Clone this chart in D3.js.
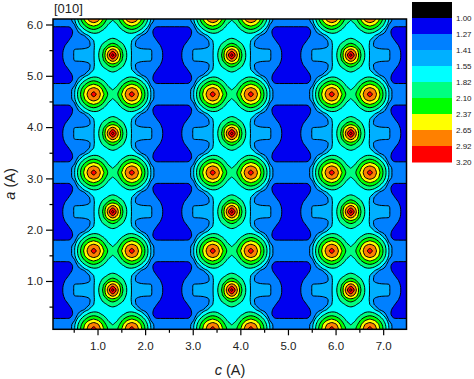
<!DOCTYPE html>
<html>
<head>
<meta charset="utf-8">
<script src="https://cdn.jsdelivr.net/npm/d3@7"></script>
<style>
  html, body { margin: 0; padding: 0; background: #fff; }
  svg { display: block; }
  text { font-family: "Liberation Sans", Arial, sans-serif; fill: #222; }
</style>
</head>
<body>
<div id="chart"></div>
<script>
// contour levels and band colours (first colour is what sits under 1.00)
var levels = [1.00, 1.27, 1.41, 1.55, 1.82, 2.10, 2.37, 2.65, 2.92, 3.20];
var levelLabels = ["1.00", "1.27", "1.41", "1.55", "1.82", "2.10", "2.37", "2.65", "2.92", "3.20"];
var bandColors = ["#000000", "#0000f0", "#0080ff", "#00b0ff", "#00ffff", "#00ff80", "#00ff00", "#ffff00", "#ff8000", "#ff0000"];

var xMajor = [1, 2, 3, 4, 5, 6, 7];
var xMinor = [0.5, 1.5, 2.5, 3.5, 4.5, 5.5, 6.5];
var yMajor = [1, 2, 3, 4, 5, 6];
var yMinor = [0.5, 1.5, 2.5, 3.5, 4.5, 5.5];

// rows go from the atom pair row to the single atom row, columns from the
// single atom axis out to the middle of the dark blue blob
var cellZ = [
  [1.96, 2.08, 2.42, 2.80, 3.05, 2.80, 2.42, 2.00, 1.55, 1.33, 1.32, 1.31, 1.30],
  [1.80, 1.95, 2.28, 2.65, 2.79, 2.65, 2.32, 1.93, 1.52, 1.33, 1.31, 1.30, 1.29],
  [1.72, 1.78, 2.05, 2.28, 2.40, 2.29, 2.05, 1.74, 1.38, 1.30, 1.29, 1.29, 1.29],
  [1.68, 1.68, 1.78, 1.92, 2.00, 1.92, 1.72, 1.46, 1.33, 1.20, 1.19, 1.19, 1.19],
  [1.72, 1.69, 1.68, 1.68, 1.66, 1.56, 1.41, 1.36, 1.31, 1.24, 1.12, 1.10, 1.10],
  [1.90, 1.84, 1.72, 1.62, 1.55, 1.40, 1.36, 1.35, 1.32, 1.285, 1.22, 1.15, 1.12],
  [2.25, 2.12, 1.90, 1.68, 1.53, 1.375, 1.37, 1.365, 1.36, 1.32, 1.27, 1.22, 1.18],
  [2.80, 2.58, 2.08, 1.76, 1.53, 1.48, 1.43, 1.425, 1.42, 1.35, 1.29, 1.24, 1.20],
  [3.35, 2.75, 2.15, 1.80, 1.53, 1.50, 1.47, 1.45, 1.42, 1.37, 1.30, 1.24, 1.20]
];
var cStep = 0.1, aStep = 0.0954;
var cStart = 1.32, aStart = 0.06;   // position of cellZ[0][0]

var margin = {top: 19, right: 67.5, bottom: 49.7, left: 53},
    width = 474 - margin.left - margin.right,
    height = 379 - margin.top - margin.bottom;

var svg = d3.select("#chart").append("svg")
    .attr("width", 474)
    .attr("height", 379);

var g = svg.append("g")
    .attr("transform", "translate(" + margin.left + "," + margin.top + ")");

var x = d3.scaleLinear().domain([0.065, 7.49]).range([0, width]);
var y = d3.scaleLinear().domain([0.058, 6.107]).range([height, 0]);

// repeat the cell over the whole picture, a bit past the frame so no
// contour closes inside it
var colFirst = -14, colCount = 80, rowFirst = -3, rowCount = 72;
var values = [];
for (var j = 0; j < rowCount; j++) {
  var rt = ((j + rowFirst) % 16 + 16) % 16;
  var row = cellZ[rt <= 8 ? rt : 16 - rt];
  for (var i = 0; i < colCount; i++) {
    var ct = ((i + colFirst) % 25 + 25) % 25;
    values.push(row[ct <= 12 ? ct : 25 - ct]);
  }
}

var contours = d3.contours()
    .size([colCount, rowCount])
    .thresholds(levels)(values);

// grid position -> pixels
function gridX(p) { return x(cStart + (p - 0.5 + colFirst) * cStep); }
function gridY(p) { return y(aStart + (p - 0.5 + rowFirst) * aStep); }

var ringLine = d3.line()
    .x(function(d) { return gridX(d[0]); })
    .y(function(d) { return gridY(d[1]); })
    .curve(d3.curveCatmullRomClosed.alpha(0.5));

function contourPath(c) {
  var out = "";
  c.coordinates.forEach(function(poly) {
    poly.forEach(function(ring) {
      out += ringLine(ring.slice(0, -1));
    });
  });
  return out;
}

svg.append("clipPath").attr("id", "plotClip")
  .append("rect").attr("width", width).attr("height", height);

var plot = g.append("g").attr("clip-path", "url(#plotClip)");

plot.append("rect")
    .attr("width", width)
    .attr("height", height)
    .attr("fill", bandColors[0]);

plot.selectAll("path.band")
    .data(contours)
    .enter().append("path")
    .attr("class", "band")
    .attr("d", contourPath)
    .attr("fill", function(d, i) { return bandColors[Math.min(i + 1, bandColors.length - 1)]; })
    .attr("fill-rule", "evenodd")
    .attr("stroke", "#000")
    .attr("stroke-width", 1)
    .attr("stroke-linejoin", "round");

// X axis
g.append("g")
    .attr("transform", "translate(0," + height + ")")
    .call(d3.axisBottom(x).tickValues(xMajor).tickFormat(d3.format(".1f")).tickSize(6).tickPadding(7))
    .call(styleAxis);
g.append("g")
    .attr("transform", "translate(0," + height + ")")
    .call(d3.axisBottom(x).tickValues(xMinor).tickFormat("").tickSize(3.5))
    .call(styleAxis);

// Y axis
g.append("g")
    .call(d3.axisLeft(y).tickValues(yMajor).tickFormat(d3.format(".1f")).tickSize(7).tickPadding(3))
    .call(styleAxis);
g.append("g")
    .call(d3.axisLeft(y).tickValues(yMinor).tickFormat("").tickSize(3.5))
    .call(styleAxis);

function styleAxis(sel) {
  sel.select(".domain").remove();
  sel.selectAll("line").attr("stroke", "#000").attr("stroke-width", 1.2);
  sel.selectAll("text").style("font-size", "11.5px").attr("fill", "#222");
}

g.append("rect")
    .attr("width", width)
    .attr("height", height)
    .attr("fill", "none")
    .attr("stroke", "#000")
    .attr("stroke-width", 1.5);

// titles
svg.append("text")
    .attr("x", 54).attr("y", 13)
    .style("font-size", "13px")
    .text("[010]");

var xTitle = svg.append("text")
    .attr("x", 230).attr("y", 375)
    .attr("text-anchor", "middle")
    .style("font-size", "14.5px");
xTitle.append("tspan").style("font-style", "italic").text("c");
xTitle.append("tspan").text(" (A)");

var yTitle = svg.append("text")
    .attr("transform", "translate(15,184) rotate(-90)")
    .attr("text-anchor", "middle")
    .style("font-size", "14.5px");
yTitle.append("tspan").style("font-style", "italic").text("a");
yTitle.append("tspan").text(" (A)");

// legend
var legendY = d3.scaleBand().domain(d3.range(bandColors.length)).range([2, 162]);
var legend = svg.append("g");

legend.selectAll("rect")
    .data(bandColors)
    .enter().append("rect")
    .attr("x", 412)
    .attr("y", function(d, i) { return legendY(i); })
    .attr("width", 40)
    .attr("height", legendY.bandwidth() + 0.5)
    .attr("fill", function(d) { return d; });

legend.selectAll("text")
    .data(levelLabels)
    .enter().append("text")
    .attr("x", 456)
    .attr("y", function(d, i) { return legendY(i) + legendY.bandwidth(); })
    .attr("dy", "0.35em")
    .style("font-size", "8px")
    .text(function(d) { return d; });
</script>
</body>
</html>
